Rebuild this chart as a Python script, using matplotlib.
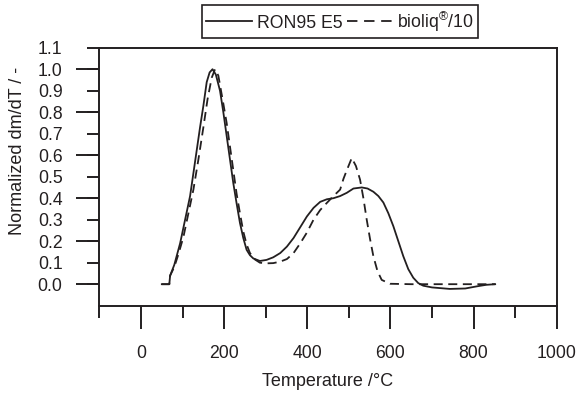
import numpy as np
import matplotlib
matplotlib.use("Agg")
import matplotlib.pyplot as plt

plt.rcParams['font.family'] = ['Liberation Sans', 'DejaVu Sans']
plt.rcParams['mathtext.fontset'] = 'custom'
plt.rcParams['mathtext.rm'] = 'Liberation Sans'
plt.rcParams['lines.scale_dashes'] = False

INK = '#231f20'

# RON95 E5 (solid)
ron_T = [50, 68, 70, 80, 94, 106, 118, 130, 142, 150, 158, 165, 172, 180, 190, 198,
         206, 214, 222, 230, 238, 246, 254, 262, 270, 286, 302, 318, 335, 351, 367,
         383, 399, 415, 431, 447, 463, 479, 495, 511, 531, 545, 559, 571, 583, 595,
         607, 619, 631, 643, 655, 667, 679, 700, 743, 780, 808, 830, 852]
ron_v = [0.0, 0.0, 0.04, 0.09, 0.19, 0.30, 0.41, 0.57, 0.73, 0.83, 0.94, 0.985, 1.0,
         0.975, 0.90, 0.80, 0.69, 0.58, 0.47, 0.375, 0.285, 0.215, 0.16, 0.135, 0.12,
         0.108, 0.113, 0.125, 0.145, 0.175, 0.215, 0.265, 0.315, 0.355, 0.383, 0.395,
         0.40, 0.41, 0.425, 0.445, 0.45, 0.445, 0.43, 0.41, 0.38, 0.33, 0.27, 0.20,
         0.13, 0.07, 0.03, 0.005, -0.007, -0.015, -0.022, -0.02, -0.01, -0.003, 0.0]

# bioliq/10 (dashed)
bio_T = [50, 68, 70, 80, 90, 102, 114, 126, 138, 150, 160, 170, 178, 186, 198, 206,
         214, 222, 230, 238, 246, 254, 262, 274, 286, 302, 318, 335, 351, 367, 383,
         399, 415, 431, 447, 463, 479, 487, 495, 507, 517, 527, 535, 543, 551, 559,
         569, 579, 599, 650, 700, 750, 800, 852]
bio_v = [0.0, 0.0, 0.04, 0.08, 0.14, 0.22, 0.33, 0.44, 0.58, 0.73, 0.86, 0.96, 1.0,
         0.97, 0.84, 0.75, 0.64, 0.53, 0.42, 0.33, 0.245, 0.185, 0.145, 0.115, 0.10,
         0.097, 0.098, 0.105, 0.117, 0.145, 0.19, 0.24, 0.30, 0.345, 0.378, 0.41,
         0.44, 0.49, 0.53, 0.587, 0.55, 0.486, 0.40, 0.30, 0.21, 0.13, 0.06, 0.02,
         0.002, 0.0, 0.0, 0.0, 0.0, 0.0]

labels = ['RON95 E5', r'bioliq$^{\mathrm{®}}$/10']
x_major = [0, 200, 400, 600, 800, 1000]
x_minor = [-100, 100, 300, 500, 700, 900]
y_ticks = [0.0, 0.1, 0.2, 0.3, 0.4, 0.5, 0.6, 0.7, 0.8, 0.9, 1.0, 1.1]
y_ticklabels = ['0.0', '0.1', '0.2', '0.3', '0.4', '0.5', '0.6', '0.7', '0.8', '0.9', '1.0', '1.1']
y_long = [0.0, 0.2, 0.4, 0.6, 0.8, 1.0]

fig = plt.figure(figsize=(5.78, 4.05), dpi=100)
ax = fig.add_axes([0.1721, 0.2452, 0.791, 0.637])

l1, = ax.plot(ron_T, ron_v, color=INK, lw=1.3, solid_joinstyle='round')
l2, = ax.plot(bio_T, bio_v, color=INK, lw=1.3, linestyle=(0, (6.5, 4.0)))

ax.set_xlim(-100, 1000)
ax.set_ylim(-0.1, 1.1)

for s in ax.spines.values():
    s.set_linewidth(1.4)
    s.set_color(INK)

ax.set_xticks(x_major)
ax.set_xticks(x_minor, minor=True)
ax.set_yticks(y_ticks)
ax.set_yticklabels(y_ticklabels)
ax.set_yticks(y_long, minor=True)
ax.yaxis.remove_overlapping_locs = False

ax.tick_params(axis='x', which='major', direction='out', length=16.6, width=1.4,
               color=INK, labelsize=12.7, labelcolor=INK, pad=12)
ax.tick_params(axis='x', which='minor', direction='out', length=8.6, width=1.4, color=INK)
ax.tick_params(axis='y', which='major', direction='out', length=8.6, width=1.4,
               color=INK, labelsize=12.7, labelcolor=INK, pad=18)
ax.tick_params(axis='y', which='minor', direction='out', length=16.6, width=1.4,
               color=INK, labelleft=False)
ax.tick_params(top=False, right=False, which='both')

fig.text(328 / 578, 1 - 382 / 405, 'Temperature /°C', ha='center', va='center',
         fontsize=13, color=INK)
fig.text(17.5 / 578, 1 - 151 / 405, 'Normalized dm/dT / -', ha='center', va='center',
         rotation=90, fontsize=13, color=INK)

leg = fig.legend([l1, l2], labels, loc='upper center', bbox_to_anchor=(340 / 578, 1 - 5 / 405),
                 ncol=2, fontsize=12.7, frameon=True, fancybox=False, framealpha=1,
                 edgecolor=INK, handlelength=2.6, handletextpad=0.25, columnspacing=0.25,
                 borderpad=0.25, borderaxespad=0)
leg.get_frame().set_linewidth(1.2)
leg.get_lines()[1].set_linestyle((0, (7.5, 4.8)))
for t in leg.get_texts():
    t.set_color(INK)

fig.savefig('out.png', dpi=100)
